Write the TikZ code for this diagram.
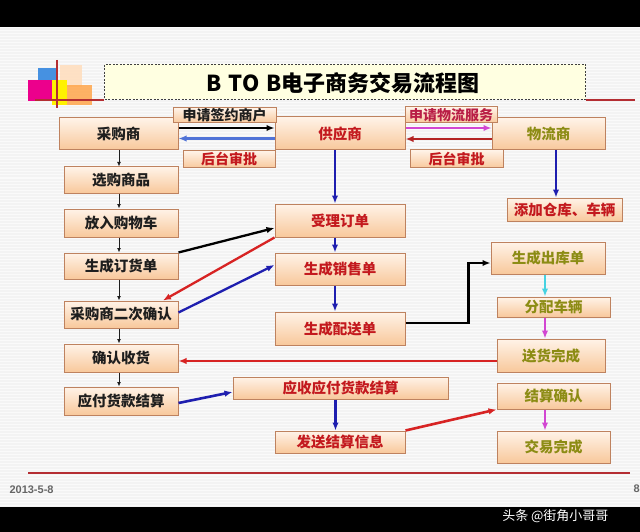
\documentclass[tikz,border=0pt]{standalone}
\usepackage{fontspec}
\setmainfont{Noto Sans CJK SC}
\setsansfont{Liberation Sans}
\usetikzlibrary{arrows.meta}
\definecolor{bg}{RGB}{243,243,243}
\definecolor{stripe}{RGB}{250,250,250}
\definecolor{boxborder}{RGB}{190,130,95}
\definecolor{boxtop}{RGB}{255,243,232}
\definecolor{boxbot}{RGB}{248,200,155}
\definecolor{txtblack}{RGB}{30,30,30}
\definecolor{txtred}{RGB}{195,25,30}
\definecolor{txtolive}{RGB}{140,140,20}
\definecolor{txtplum}{RGB}{185,30,70}
\definecolor{arrblue}{RGB}{30,30,175}
\definecolor{arrlblue}{RGB}{80,115,215}
\definecolor{arrred}{RGB}{215,35,35}
\definecolor{arrdred}{RGB}{180,35,35}
\definecolor{arrmag}{RGB}{210,70,210}
\definecolor{arrcyan}{RGB}{70,210,225}
\definecolor{linered}{RGB}{180,45,50}
\definecolor{titlefill}{RGB}{255,255,225}
\definecolor{logoblue}{RGB}{70,145,225}
\begin{document}
\begin{tikzpicture}[x=1pt,y=-1pt,
  box/.style={draw=boxborder, line width=1pt, top color=boxtop, bottom color=boxbot, inner sep=0pt,
    font=\fontsize{14.5}{15}\selectfont\bfseries},
  lab/.style={box, font=\fontsize{14}{14}\selectfont\bfseries},
  tip/.style={-{Latex[length=8pt,width=6.5pt]}},
  smallarr/.style={-{Latex[length=4.5pt,width=4pt]}, line width=0.9pt, draw=txtblack},
  thick2/.style={tip, line width=2.6pt}]
\useasboundingbox (0,0) rectangle (640,532);
% background
\fill[bg] (0,0) rectangle (640,532);
\foreach \yy in {28,31,...,506} {\draw[stripe, line width=1pt] (0,\yy) -- (640,\yy);}
\fill[black] (0,0) rectangle (640,27);
\fill[black] (0,507) rectangle (640,532);
% logo
\fill[logoblue] (38,68) rectangle (56,84);
\fill[orange!25, opacity=0.9] (60,65) rectangle (82,87);
\fill[magenta] (28,80) rectangle (52,101);
\fill[yellow] (52,80) rectangle (67,105);
\fill[orange!70, opacity=0.85] (67,85) rectangle (92,105);
\draw[linered, line width=2pt] (57,60) -- (57,108);
\draw[linered, line width=2pt] (35,100) -- (104,100);
% title
\node[draw=black!75, dash pattern=on 2pt off 1.5pt, line width=1.6pt, fill=titlefill,
  minimum width=481pt, minimum height=35pt, inner sep=0pt] (title) at (345,82) {};
\node[font=\fontsize{22}{22}\selectfont\bfseries, text=black] (titletext) at (343,83) {B\,\,TO\,\,B电子商务交易流程图};
\draw[linered, line width=2pt] (title.east |- 0,100) -- (635,100);
% left column
\node[box, minimum width=119pt, minimum height=32pt, text=txtblack] (cgs) at (118.5,134) {采购商};
\node[box, minimum width=114pt, minimum height=26pt, text=txtblack] (xgsp) at (121,180) {选购商品};
\node[box, minimum width=114pt, minimum height=28pt, text=txtblack] (frgwc) at (121,223) {放入购物车};
\node[box, minimum width=114pt, minimum height=26pt, text=txtblack] (dhd) at (121,266) {生成订货单};
\node[box, minimum width=114pt, minimum height=27pt, text=txtblack] (ecqr) at (121,314.5) {采购商二次确认};
\node[box, minimum width=114pt, minimum height=28pt, text=txtblack] (qrsh) at (121,358) {确认收货};
\node[box, minimum width=114pt, minimum height=28pt, text=txtblack] (yfjs) at (121,401) {应付货款结算};
% middle column
\node[box, minimum width=130pt, minimum height=33pt, text=txtred] (gys) at (340,133.5) {供应商};
\node[box, minimum width=130pt, minimum height=33pt, text=txtred] (sl) at (340,220.5) {受理订单};
\node[box, minimum width=130pt, minimum height=32pt, text=txtred] (xsd) at (340,269) {生成销售单};
\node[box, minimum width=130pt, minimum height=33pt, text=txtred] (psd) at (340,328.5) {生成配送单};
\node[box, minimum width=215pt, minimum height=22pt, text=txtred] (yshou) at (340.5,388) {应收应付货款结算};
\node[box, minimum width=130pt, minimum height=22pt, text=txtred] (fsxx) at (340,442) {发送结算信息};
% right column
\node[box, minimum width=113pt, minimum height=32pt, text=txtolive] (wls) at (548.5,134) {物流商};
\node[box, minimum width=115pt, minimum height=23pt, text=txtred] (tj) at (564.5,209.5) {添加仓库、车辆};
\node[box, minimum width=114pt, minimum height=32pt, text=txtolive] (ck) at (548,258) {生成出库单};
\node[box, minimum width=113pt, minimum height=20pt, text=txtolive] (fp) at (553.5,307) {分配车辆};
\node[box, minimum width=108pt, minimum height=33pt, text=txtolive] (shwc) at (551,355.5) {送货完成};
\node[box, minimum width=113pt, minimum height=26pt, text=txtolive] (jsqr) at (553.5,396) {结算确认};
\node[box, minimum width=113pt, minimum height=32pt, text=txtolive] (jywc) at (553.5,447) {交易完成};
% labels
\node[lab, minimum width=103pt, minimum height=15pt, text=txtblack] (sqqy) at (224.5,115.5) {申请签约商户};
\node[lab, minimum width=92pt, minimum height=17pt, text=txtred] (htsp1) at (229,159.5) {后台审批};
\node[lab, minimum width=92pt, minimum height=16pt, text=txtplum] (sqwl) at (451,115) {申请物流服务};
\node[lab, minimum width=93pt, minimum height=18pt, text=txtred] (htsp2) at (456.5,159) {后台审批};
% left column arrows
\draw[smallarr] ([xshift=0.5pt]cgs.south) -- ([xshift=0.5pt]cgs.south |- xgsp.north);
\draw[smallarr] ([xshift=-2pt]xgsp.south) -- ([xshift=-2pt]xgsp.south |- frgwc.north);
\draw[smallarr] ([xshift=-2pt]frgwc.south) -- ([xshift=-2pt]frgwc.south |- dhd.north);
\draw[smallarr] ([xshift=-2pt]dhd.south) -- ([xshift=-2pt]dhd.south |- ecqr.north);
\draw[smallarr] ([xshift=-2pt]ecqr.south) -- ([xshift=-2pt]ecqr.south |- qrsh.north);
\draw[smallarr] ([xshift=-2pt]qrsh.south) -- ([xshift=-2pt]qrsh.south |- yfjs.north);
% top horizontal arrows
\draw[thick2, draw=black] ([yshift=6pt]cgs.east) -- ([yshift=6pt]cgs.east -| gys.west);
\draw[thick2, draw=arrlblue] ([yshift=-5pt]gys.west) -- ([yshift=-5pt]gys.west -| cgs.east);
\draw[thick2, draw=arrmag] ([yshift=5.5pt]gys.east) -- ([yshift=5.5pt]gys.east -| wls.west);
\draw[thick2, draw=arrdred] ([yshift=-5pt]wls.west) -- ([yshift=-5pt]wls.west -| gys.east);
% vertical arrows
\draw[thick2, draw=arrblue] ([xshift=-5pt]gys.south) -- ([xshift=-5pt]gys.south |- sl.north);
\draw[thick2, draw=arrblue] ([xshift=7.5pt]wls.south) -- ([xshift=7.5pt]wls.south |- tj.north);
\draw[thick2, draw=arrblue] ([xshift=-5pt]sl.south) -- ([xshift=-5pt]sl.south |- xsd.north);
\draw[thick2, draw=arrblue] ([xshift=-5pt]xsd.south) -- ([xshift=-5pt]xsd.south |- psd.north);
\draw[thick2, draw=arrblue] ([xshift=-5pt]yshou.south) -- ([xshift=-5pt]yshou.south |- fsxx.north);
\draw[thick2, draw=arrcyan] ([xshift=-3pt]ck.south) -- ([xshift=-3pt]ck.south |- fp.north);
\draw[thick2, draw=arrmag] ([xshift=-8.5pt]fp.south) -- ([xshift=-8.5pt]fp.south |- shwc.north);
\draw[thick2, draw=arrmag] ([xshift=-8.5pt]jsqr.south) -- ([xshift=-8.5pt]jsqr.south |- jywc.north);
% cross arrows
\draw[thick2, draw=black, line width=2.3pt] (dhd.north east) -- ([yshift=-7.5pt]sl.west);
\draw[thick2, draw=arrred, line width=2.3pt] (sl.south west) -- ([xshift=42pt]ecqr.north);
\draw[thick2, draw=arrblue, line width=2.3pt] ([yshift=2pt]ecqr.east) -- ([yshift=4pt]xsd.west);
\draw[thick2, draw=black] ([yshift=5.5pt]psd.east) -- ++(63,0) |- ([yshift=-5pt]ck.west);
\draw[thick2, draw=arrred] ([yshift=-5.5pt]shwc.west) -- ([yshift=-5.5pt]shwc.west -| qrsh.east);
\draw[thick2, draw=arrblue] ([yshift=-2pt]yfjs.east) -- ([yshift=-4pt]yshou.west);
\draw[thick2, draw=arrred] (fsxx.north east) -- (jsqr.south west);
% footer
\draw[linered, line width=2pt] (28,473) -- (630,473);
\node[font=\sffamily\bfseries\fontsize{11}{11}\selectfont, text=black!60, anchor=west] (date) at (6,490) {2013-5-8};
\node[font=\sffamily\bfseries\fontsize{11}{11}\selectfont, text=black!60, anchor=west] (pg) at (630,489) {8};
\node[font=\fontsize{13}{13}\selectfont, text=white, anchor=east] (wm) at (612,516) {头条 @街角小哥哥};
\end{tikzpicture}
\end{document}
